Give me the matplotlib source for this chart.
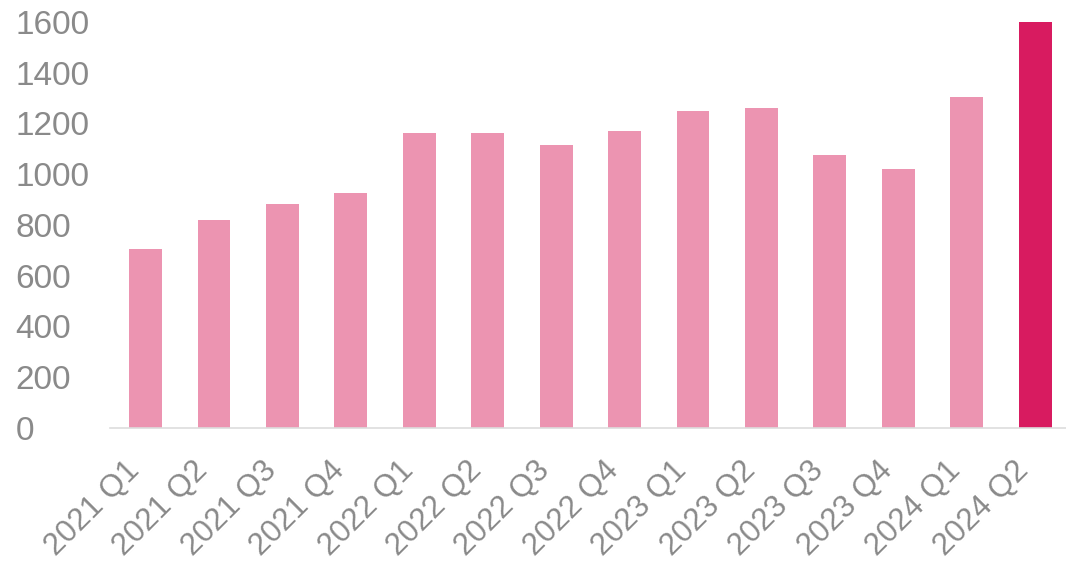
import matplotlib
matplotlib.use("Agg")
import matplotlib.pyplot as plt

# Quarterly values
quarters = ["2021 Q1", "2021 Q2", "2021 Q3", "2021 Q4",
            "2022 Q1", "2022 Q2", "2022 Q3", "2022 Q4",
            "2023 Q1", "2023 Q2", "2023 Q3", "2023 Q4",
            "2024 Q1", "2024 Q2"]
values = [705, 820, 883, 926,
          1162, 1162, 1115, 1170,
          1249, 1261, 1076, 1020,
          1304, 1600]
y_ticks = [0, 200, 400, 600, 800, 1000, 1200, 1400, 1600]

base_color = "#ec94b1"
highlight_color = "#d81b60"
colors = [base_color] * (len(values) - 1) + [highlight_color]

plt.rcParams["font.family"] = ["Liberation Sans", "DejaVu Sans"]

W, H = 1066, 574
fig = plt.figure(figsize=(W / 100, H / 100), dpi=100)
ax = fig.add_axes([110 / W, (H - 428) / H, (W - 110) / W, (428 - 22) / H])

x = range(len(quarters))
ax.bar(x, values, width=0.48, color=colors, zorder=2)

ax.set_xlim(-0.52, 13.45)
ax.set_ylim(0, 1600)
ax.set_yticks(y_ticks)
ax.set_yticklabels([str(v) for v in y_ticks])
ax.set_xticks(list(x))
ax.set_xticklabels(quarters, rotation=45, ha="right", rotation_mode="default")

for side in ("top", "right", "left"):
    ax.spines[side].set_visible(False)
ax.spines["bottom"].set_color("#dddddd")
ax.spines["bottom"].set_linewidth(1.2)

ax.tick_params(axis="y", length=0, pad=68, labelsize=24, labelcolor="#8a8a8a")
ax.tick_params(axis="x", length=0, pad=20, labelsize=22.5, labelcolor="#8a8a8a")
for lbl in ax.get_yticklabels():
    lbl.set_horizontalalignment("left")

fig.savefig("out.png", dpi=100, facecolor="white")
